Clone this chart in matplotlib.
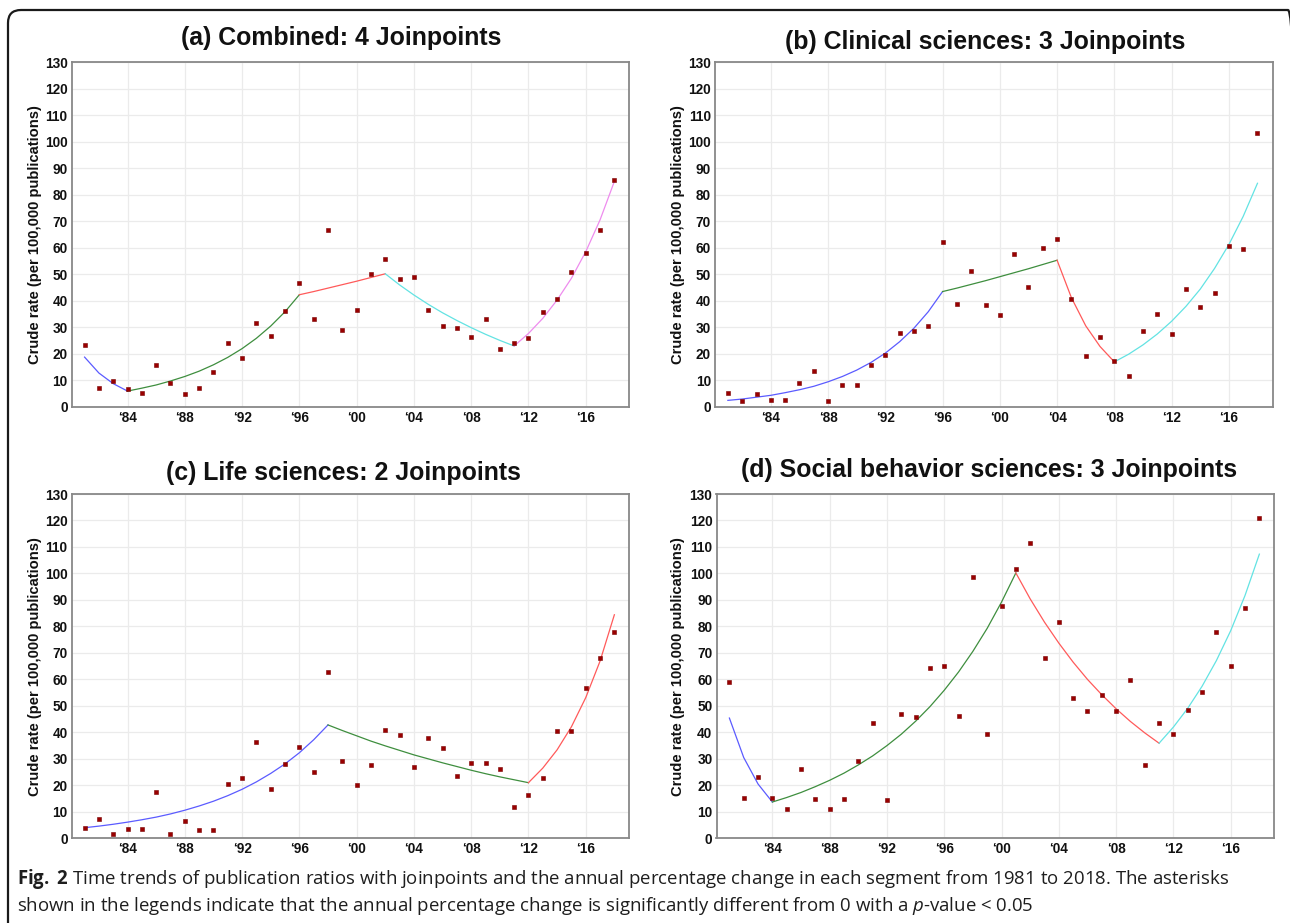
import matplotlib
matplotlib.use("Agg")
import matplotlib.pyplot as plt
from matplotlib.patches import FancyBboxPatch

years = list(range(1981, 2019))

# Observed crude rates (per 100,000 publications)
combined = [23.3, 7.0, 9.7, 6.8, 5.3, 15.8, 9.0, 5.0, 7.3, 13.3, 24.2, 18.3, 31.5, 26.7, 36.0,
            46.8, 33.3, 66.8, 29.2, 36.5, 50.3, 55.8, 48.3, 49.0, 36.6, 30.4, 29.6, 26.3, 33.1,
            21.9, 24.2, 26.0, 35.8, 40.6, 50.7, 57.9, 66.6, 85.5]
clinical = [5.4, 2.4, 5.0, 2.5, 2.5, 9.2, 13.5, 2.1, 8.4, 8.4, 15.9, 19.7, 27.7, 28.5, 30.4,
            62.2, 38.7, 51.2, 38.3, 34.7, 57.6, 45.1, 60.0, 63.4, 40.6, 19.3, 26.5, 17.4, 11.8,
            28.6, 35.2, 27.6, 44.4, 37.8, 42.8, 60.6, 59.7, 103.1]
life = [3.9, 7.4, 1.7, 3.5, 3.6, 17.3, 1.6, 6.4, 3.1, 3.0, 20.5, 22.9, 36.2, 18.7, 28.2,
        34.4, 25.1, 62.7, 29.0, 20.2, 27.5, 40.8, 39.1, 27.0, 37.9, 34.1, 23.4, 28.3, 28.3,
        26.1, 11.9, 16.2, 22.9, 40.5, 40.6, 56.6, 68.1, 77.8]
social = [59.0, 15.2, 23.3, 15.1, 11.0, 26.1, 14.8, 11.1, 14.8, 29.0, 43.5, 14.4, 46.8, 45.9, 64.4,
          65.0, 46.3, 98.5, 39.4, 87.8, 101.8, 111.6, 68.1, 81.8, 52.8, 47.9, 54.2, 48.0, 59.8,
          27.7, 43.5, 39.3, 48.3, 55.2, 77.8, 65.0, 86.8, 121.0]

# Fitted joinpoint segments: (start year, fitted values per year)
combined_fit = [(1981, [18.8, 12.8, 8.8, 6.0]),
                (1984, [6.0, 7.1, 8.3, 9.8, 11.5, 13.5, 15.9, 18.7, 22.0, 25.9, 30.5, 35.9, 42.3]),
                (1996, [42.3, 43.5, 44.8, 46.1, 47.4, 48.8, 50.2]),
                (2002, [50.2, 46.0, 42.2, 38.7, 35.5, 32.6, 29.9, 27.4, 25.1, 23.0]),
                (2011, [23.0, 27.7, 33.4, 40.3, 48.5, 58.5, 70.5, 85.0])]
clinical_fit = [(1981, [2.5, 3.0, 3.7, 4.4, 5.4, 6.5, 7.8, 9.5, 11.5, 13.9, 16.8, 20.3, 24.6, 29.7, 35.9, 43.5]),
                (1996, [43.5, 44.8, 46.2, 47.6, 49.1, 50.6, 52.1, 53.7, 55.3]),
                (2004, [55.3, 41.2, 30.6, 22.8, 17.0]),
                (2008, [17.0, 19.9, 23.4, 27.5, 32.3, 37.9, 44.4, 52.2, 61.2, 71.8, 84.3])]
life_fit = [(1981, [4.0, 4.6, 5.3, 6.1, 7.0, 8.0, 9.2, 10.6, 12.2, 14.0, 16.1, 18.5, 21.3, 24.5, 28.1, 32.3, 37.2, 42.8]),
            (1998, [42.8, 40.7, 38.7, 36.7, 34.9, 33.2, 31.5, 30.0, 28.5, 27.1, 25.7, 24.4, 23.2, 22.1, 21.0]),
            (2012, [21.0, 26.5, 33.4, 42.1, 53.1, 66.9, 84.4])]
social_fit = [(1981, [45.4, 30.5, 20.5, 13.7]),
              (1984, [13.7, 15.4, 17.3, 19.5, 21.9, 24.6, 27.7, 31.1, 35.0, 39.3, 44.2, 49.7, 55.9, 62.8, 70.6, 79.3, 89.2, 100.2]),
              (2001, [100.2, 90.4, 81.6, 73.7, 66.5, 60.0, 54.2, 48.9, 44.1, 39.8, 35.9]),
              (2011, [35.9, 42.0, 49.1, 57.4, 67.1, 78.4, 91.7, 107.3])]

titles = ["(a) Combined: 4 Joinpoints", "(b) Clinical sciences: 3 Joinpoints",
          "(c) Life sciences: 2 Joinpoints", "(d) Social behavior sciences: 3 Joinpoints"]
xtick_years = [1984, 1988, 1992, 1996, 2000, 2004, 2008, 2012, 2016]
xtick_labels = ["\u201884", "\u201888", "\u201892", "\u201896", "\u201800", "\u201804", "\u201808", "\u201812", "\u201816"]
yticks = list(range(0, 131, 10))

seg_colors = ["#5b5bff", "#3e8e3e", "#ff5a5a", "#63e3e3", "#ee8cee"]

W, H = 1290, 923
fig = plt.figure(figsize=(W / 100, H / 100), dpi=100)

BOLD = ["Liberation Sans", "DejaVu Sans"]

panels = [
    (combined, combined_fit, titles[0], (71.7, 62, 629.4, 407), 35, (341, 38)),
    (clinical, clinical_fit, titles[1], (715, 62, 1272.5, 407), 678, (985, 42)),
    (life, life_fit, titles[2], (71.7, 494, 629.4, 838.3), 35, (343, 473)),
    (social, social_fit, titles[3], (716.5, 494, 1274.4, 838.3), 678, (989, 470)),
]

for data, fit, title, (x0, y0, x1, y1), ylab_x, (tx, ty) in panels:
    ax = fig.add_axes([x0 / W, 1 - y1 / H, (x1 - x0) / W, (y1 - y0) / H])
    ax.set_xlim(1980.1, 2019.05)
    ax.set_ylim(0, 130)
    ax.set_xticks(xtick_years)
    ax.set_xticklabels(xtick_labels)
    ax.set_yticks(yticks)
    ax.grid(True, color="#ebebeb", linewidth=0.9)
    ax.set_axisbelow(True)
    ax.tick_params(length=0, pad=3)
    for lab in ax.get_xticklabels() + ax.get_yticklabels():
        lab.set_fontfamily(BOLD)
        lab.set_fontweight("bold")
        lab.set_fontsize(9.8)
        lab.set_color("#111111")
    for sp in ax.spines.values():
        sp.set_color("#888888")
        sp.set_linewidth(1.3)
    for i, (start, vals) in enumerate(fit):
        xs = list(range(start, start + len(vals)))
        ax.plot(xs, vals, color=seg_colors[i], linewidth=0.9, zorder=2)
    ax.plot(years, data, linestyle="none", marker="s", markersize=3.5,
            markerfacecolor="#990000", markeredgecolor="#7a0000", markeredgewidth=0.4, zorder=3)
    fig.text(ylab_x / W, 1 - (y0 + y1) / 2 / H, "Crude rate (per 100,000 publications)",
             rotation=90, ha="center", va="center", fontsize=10.6, fontweight="bold",
             family=BOLD, color="#111111")
    fig.text(tx / W, 1 - ty / H, title, ha="center", va="center", fontsize=17.9,
             fontweight="bold", family=BOLD, color="#111111")

# caption
plt.rcParams["mathtext.fontset"] = "custom"
plt.rcParams["mathtext.rm"] = "Open Sans"
plt.rcParams["mathtext.it"] = "Open Sans:italic"
plt.rcParams["mathtext.bf"] = "Open Sans:bold"
fig.text(17 / W, 1 - 879 / H,
         r"$\mathbf{Fig.}$ $\mathbf{2}$ Time trends of publication ratios with joinpoints and the annual percentage change in each segment from 1981 to 2018. The asterisks",
         ha="left", va="center", fontsize=13.45, family="Open Sans", color="#1e1e1e")
fig.text(17 / W, 1 - 906 / H,
         r"shown in the legends indicate that the annual percentage change is significantly different from 0 with a $p$-value < 0.05",
         ha="left", va="center", fontsize=13.45, family="Open Sans", color="#1e1e1e")

# outer rounded border (right and bottom edges run off the canvas)
border = FancyBboxPatch((0.08, -0.5), 12.93, 9.13 + 0.5,
                        boxstyle="round,pad=0,rounding_size=0.13",
                        transform=fig.dpi_scale_trans, fill=False,
                        edgecolor="#1a1a1a", linewidth=1.6, clip_on=False)
fig.patches.append(border)

fig.savefig("out.png", dpi=100)
